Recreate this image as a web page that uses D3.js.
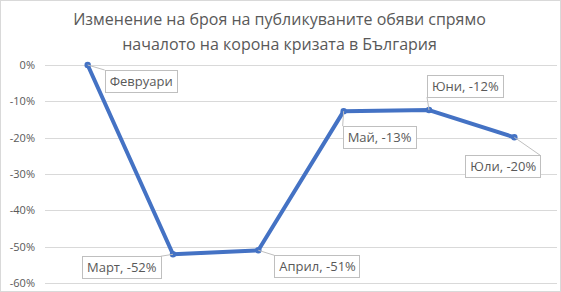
<!DOCTYPE html>
<html>
<head>
<meta charset="UTF-8">
<script src="https://cdn.jsdelivr.net/npm/d3@7"></script>
<style>
  html, body { margin: 0; padding: 0; background: #fff; }
  svg { display: block; font-family: "Open Sans", sans-serif; }
</style>
</head>
<body>
<div id="root"></div>
<script>
  // data
  var months = ["Февруари", "Март", "Април", "Май", "Юни", "Юли"];
  var change = [0, -52.1, -51.0, -12.7, -12.4, -19.9];
  var labels = ["Февруари", "Март, -52%", "Април, -51%", "Май, -13%", "Юни, -12%", "Юли, -20%"];
  var yTicks = [0, -10, -20, -30, -40, -50, -60];
  // label box offsets from the point (dx, dy of box top-left)
  var labelPos = [[17, 5], [-91, 2], [16, 5], [-1, 15], [-2, -35], [-49, 18]];

  var W = 561, H = 292;
  var margin = {top: 65, right: 4, bottom: 9, left: 45};
  var width = W - margin.left - margin.right,
      height = H - margin.top - margin.bottom;

  var x = d3.scaleBand().domain(months).range([0, width]);
  var y = d3.scaleLinear().domain([-60, 0]).range([height, 0]);

  var svg = d3.select("#root").append("svg")
    .attr("width", W).attr("height", H);

  svg.append("rect")
    .attr("x", 0.5).attr("y", 0.5)
    .attr("width", W - 1).attr("height", H - 1)
    .attr("fill", "#fff").attr("stroke", "#d9d9d9");

  var title = svg.append("text")
    .attr("text-anchor", "middle")
    .attr("fill", "#595959")
    .style("font-size", "16px");
  title.append("tspan").attr("x", W / 2 - 1).attr("y", 25)
    .text("Изменение на броя на публикуваните обяви спрямо");
  title.append("tspan").attr("x", W / 2 - 1).attr("y", 50)
    .text("началото на корона кризата в България");

  var g = svg.append("g")
    .attr("transform", "translate(" + margin.left + "," + margin.top + ")");

  // gridlines
  g.selectAll(".grid").data(yTicks).enter().append("line")
    .attr("x1", 0).attr("x2", width)
    .attr("y1", function(d) { return Math.round(y(d)) + 0.5; })
    .attr("y2", function(d) { return Math.round(y(d)) + 0.5; })
    .attr("stroke", "#d9d9d9");

  // y axis labels
  var yAxis = d3.axisLeft(y).tickValues(yTicks)
    .tickSize(0).tickPadding(10)
    .tickFormat(function(d) { return d + "%"; });
  var ya = g.append("g").call(yAxis);
  ya.select(".domain").remove();
  ya.selectAll("text").attr("fill", "#595959")
    .style("font-size", "11px").style("font-family", "Open Sans, sans-serif");

  var cx = function(d, i) { return x(months[i]) + x.bandwidth() / 2; };
  var cy = function(d) { return y(d); };

  var line = d3.line().x(cx).y(cy);
  g.append("path").datum(change)
    .attr("d", line)
    .attr("fill", "none")
    .attr("stroke", "#4472c4")
    .attr("stroke-width", 4)
    .attr("stroke-linejoin", "round");

  g.selectAll(".pt").data(change).enter().append("circle")
    .attr("cx", cx).attr("cy", cy).attr("r", 3.2)
    .attr("fill", "#4472c4");

  // data labels with callout boxes
  var lab = g.selectAll(".lab").data(change).enter().append("g");
  lab.each(function(d, i) {
    var sel = d3.select(this);
    var px = cx(d, i), py = cy(d);
    var bx = px + labelPos[i][0], by = py + labelPos[i][1];
    var t = sel.append("text")
      .attr("x", bx + 5).attr("y", by + 16)
      .attr("fill", "#595959")
      .style("font-size", "13px")
      .text(labels[i]);
    var bw = t.node().getComputedTextLength() + 9, bh = 22;
    // leader line to nearest box corner/edge
    var lx = Math.max(bx, Math.min(px, bx + bw));
    var ly = Math.max(by, Math.min(py, by + bh));
    if (lx > bx && lx < bx + bw) lx = (px < bx + bw / 2) ? bx : bx + bw;
    sel.insert("line", "text")
      .attr("x1", px).attr("y1", py).attr("x2", lx).attr("y2", ly)
      .attr("stroke", "#bfbfbf");
    sel.insert("rect", "text")
      .attr("x", Math.round(bx) + 0.5).attr("y", Math.round(by) + 0.5)
      .attr("width", Math.round(bw)).attr("height", bh)
      .attr("fill", "#fff").attr("stroke", "#bfbfbf");
  });
</script>
</body>
</html>
